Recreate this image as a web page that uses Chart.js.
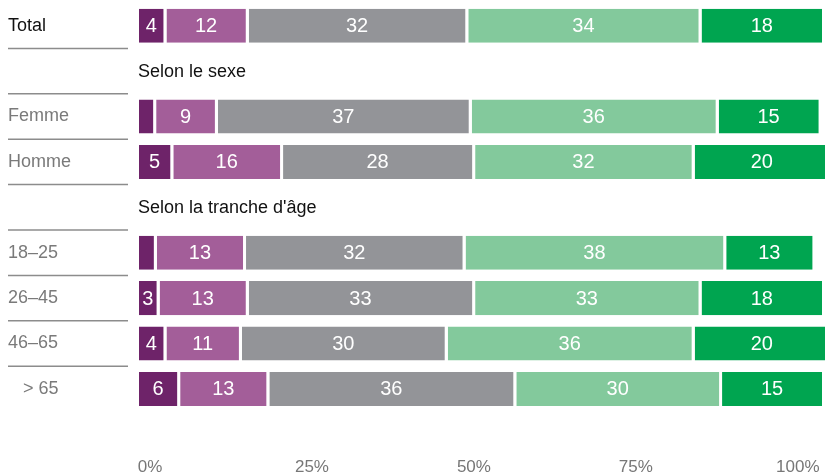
<!DOCTYPE html>
<html>
<head>
<meta charset="utf-8">
<script src="https://cdn.jsdelivr.net/npm/chart.js@4"></script>
<style>
  html, body { margin: 0; padding: 0; background: #fff; }
  #wrap { width: 825px; height: 475px; }
</style>
</head>
<body>
<div id="wrap"><canvas id="chart"></canvas></div>
<script>
// rows, top to bottom ('' = group header or spacer row)
const rowLabels = ['Total', '', 'Femme', 'Homme', '', '18–25', '26–45', '46–65', '   > 65', ''];
const groupHeaders = ['', 'Selon le sexe', '', '', "Selon la tranche d'âge", '', '', '', '', ''];

// shares in %, one array per answer level
const valsDarkPurple = [4, null, 2.5, 5, null, 2.6, 3, 4, 6, null];
const valsMauve      = [12, null, 9, 16, null, 13, 13, 11, 13, null];
const valsGrey       = [32, null, 37, 28, null, 32, 33, 30, 36, null];
const valsLightGreen = [34, null, 36, 32, null, 38, 33, 36, 30, null];
const valsGreen      = [18, null, 15, 20, null, 13, 18, 20, 15, null];

const tickValues = [0, 25, 50, 75, 100];

const colors = ['#6e2369', '#a35e99', '#939498', '#83c99c', '#00a550'];
const FONT = '"Liberation Sans", Arial, sans-serif';

const datasets = [valsDarkPurple, valsMauve, valsGrey, valsLightGreen, valsGreen].map(function (d, i) {
    return {
        data: d,
        backgroundColor: colors[i],
        borderColor: '#fff',
        borderWidth: {left: 0, right: 3, top: 0, bottom: 0},
        borderSkipped: 'start',
        categoryPercentage: 0.75,
        barPercentage: 1
    };
});

// white numbers inside each segment
const valueLabels = {
    id: 'valueLabels',
    afterDatasetsDraw(chart) {
        const ctx = chart.ctx;
        ctx.save();
        ctx.font = '20px ' + FONT;
        ctx.fillStyle = '#fff';
        ctx.textAlign = 'center';
        ctx.textBaseline = 'middle';
        chart.data.datasets.forEach(function (ds, di) {
            chart.getDatasetMeta(di).data.forEach(function (bar, i) {
                const v = ds.data[i];
                if (v == null || v < 3) return;
                const p = bar.getProps(['x', 'y', 'base'], true);
                ctx.fillText(String(v), (p.x + p.base) / 2 - 1.5, p.y + 1);
            });
        });
        ctx.restore();
    }
};

// group headers and the grey rules under the row names
const rowDecor = {
    id: 'rowDecor',
    afterDraw(chart) {
        const ctx = chart.ctx;
        const y = chart.scales.y;
        const area = chart.chartArea;
        ctx.save();
        ctx.font = '18px ' + FONT;
        ctx.fillStyle = '#111';
        ctx.textAlign = 'left';
        ctx.textBaseline = 'middle';
        groupHeaders.forEach(function (h, i) {
            if (h) ctx.fillText(h, area.left - 1, y.getPixelForValue(i) + 1);
        });
        ctx.strokeStyle = '#8c8c8c';
        ctx.lineWidth = 1.5;
        for (let i = 0; i < rowLabels.length - 2; i++) {
            const yy = (y.getPixelForValue(i) + y.getPixelForValue(i + 1)) / 2;
            ctx.beginPath();
            ctx.moveTo(8, yy);
            ctx.lineTo(128, yy);
            ctx.stroke();
        }
        ctx.restore();
    }
};

new Chart(document.getElementById('chart'), {
    type: 'bar',
    data: { labels: rowLabels, datasets: datasets },
    options: {
        indexAxis: 'y',
        responsive: true,
        maintainAspectRatio: false,
        animation: false,
        layout: { padding: { left: 8, top: 3, right: 0, bottom: 0 } },
        plugins: { legend: { display: false }, tooltip: { enabled: false } },
        scales: {
            x: { stacked: true, min: 0, max: 100, display: false },
            xt: {
                type: 'linear',
                position: 'bottom',
                min: -1.7,
                max: 104.2,
                grid: { display: false, drawTicks: false },
                border: { display: false },
                afterBuildTicks: function (axis) {
                    axis.ticks = tickValues.map(function (v) { return { value: v }; });
                },
                afterFit: function (axis) { axis.height = 18; },
                ticks: {
                    padding: 0,
                    color: '#777',
                    font: { family: FONT, size: 17 },
                    callback: function (v) { return v + '%'; }
                }
            },
            y: {
                stacked: true,
                grid: { display: false, drawTicks: false },
                border: { display: false },
                afterFit: function (axis) {
                    axis.width = 131;
                    axis.paddingTop = 0;
                    axis.paddingBottom = 0;
                },
                ticks: {
                    crossAlign: 'far',
                    padding: 0,
                    font: { family: FONT, size: 18 },
                    color: function (c) { return c.index === 0 ? '#111' : '#7a7a7a'; }
                }
            }
        }
    },
    plugins: [valueLabels, rowDecor]
});
</script>
</body>
</html>
